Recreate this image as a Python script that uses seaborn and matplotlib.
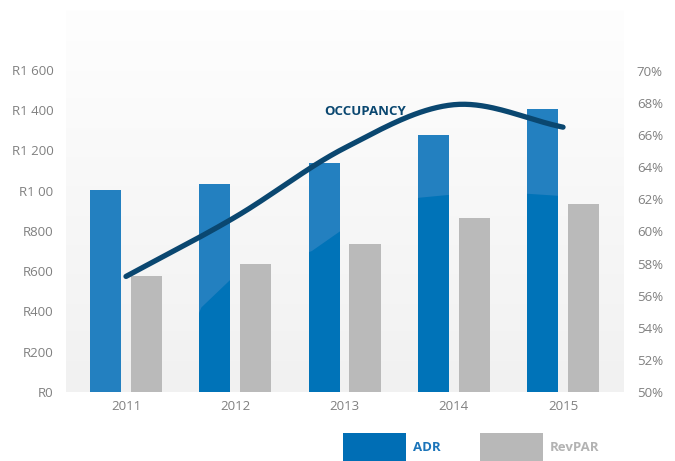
import numpy as np
import pandas as pd
import seaborn as sns
import matplotlib.pyplot as plt
from matplotlib.patches import Rectangle, Polygon
from matplotlib.colors import LinearSegmentedColormap, to_rgb

years = ['2011', '2012', '2013', '2014', '2015']
adr = [1005, 1035, 1140, 1275, 1405]
revpar = [575, 635, 735, 865, 935]
occupancy = [57.2, 60.9, 65.2, 67.9, 66.5]
left_ticks = [0, 200, 400, 600, 800, 1000, 1200, 1400, 1600]
left_labels = ['R0', 'R200', 'R400', 'R600', 'R800', 'R1 00', 'R1 200', 'R1 400', 'R1 600']
right_ticks = [50, 52, 54, 56, 58, 60, 62, 64, 66, 68, 70]
right_labels = [f'{t}%' for t in right_ticks]

ADR_DARK = '#0073b8'
ADR_LIGHT = '#2380c0'
GREY = '#bababa'
NAVY = '#0a4770'
TICK = '#808080'

sns.set_theme(style='white')
plt.rcParams['font.family'] = ['Open Sans', 'DejaVu Sans']

df = pd.DataFrame({
    'year': years * 2,
    'value': adr + revpar,
    'metric': ['ADR'] * len(years) + ['RevPAR'] * len(years),
})

fig = plt.figure(figsize=(6.75, 4.61), dpi=100)
ax = fig.add_axes([0.0978, 0.1497, 0.8252, 0.8286])

# faint vertical gradient behind the plot
bg = LinearSegmentedColormap.from_list('bg', ['#f1f1f1', '#fefefe'])
ax.imshow(np.linspace(0, 1, 200)[:, None], cmap=bg, aspect='auto',
          extent=(0, 1, 0, 1), transform=ax.transAxes, origin='lower', zorder=0)

sns.barplot(data=df, x='year', y='value', hue='metric', hue_order=['ADR', 'RevPAR'],
            palette={'ADR': ADR_DARK, 'RevPAR': GREY}, width=0.75, gap=0.243,
            saturation=1, errorbar=None, legend=False, linewidth=0, ax=ax, zorder=2)

ax.set_xlim(-0.549, 4.549)
ax.set_ylim(0, 1898)

# glossy lighter top on the ADR bars
shine = Polygon([(-1, 0), (0.36, 0), (0.69, 420), (0.96, 560), (1.7, 700), (1.99, 810),
                 (2.68, 965), (2.97, 980), (3.67, 985), (3.95, 975), (5, 960),
                 (5, 3000), (-1, 3000)], closed=True, transform=ax.transData,
                facecolor='none', edgecolor='none')
for p in list(ax.patches):
    if np.allclose(p.get_facecolor()[:3], to_rgb(ADR_DARK)):
        r = Rectangle(p.get_xy(), p.get_width(), p.get_height(), facecolor=ADR_LIGHT,
                      edgecolor='none', linewidth=0, zorder=2.5)
        ax.add_patch(r)
        r.set_clip_path(shine)

ax.set_yticks(left_ticks, left_labels)
ax.set_xlabel('')
ax.set_ylabel('')
ax.tick_params(axis='y', length=0, pad=9, labelsize=9.5, labelcolor=TICK)
ax.tick_params(axis='x', length=0, pad=6, labelsize=9.5, labelcolor=TICK)
for s in ax.spines.values():
    s.set_visible(False)

ax2 = ax.twinx()
ax2.set_ylim(50, 73.8)
# smooth occupancy curve (Catmull-Rom through the yearly values)
xs = np.arange(len(years), dtype=float)
ys = np.array(occupancy)
px = np.concatenate([[2 * xs[0] - xs[1]], xs, [2 * xs[-1] - xs[-2]]])
py = np.concatenate([[2 * ys[0] - ys[1]], ys, [2 * ys[-1] - ys[-2]]])
cx, cy = [], []
t = np.linspace(0, 1, 40)
for i in range(1, len(px) - 2):
    for arr, out in ((px, cx), (py, cy)):
        p0, p1, p2, p3 = arr[i - 1], arr[i], arr[i + 1], arr[i + 2]
        out.extend(0.5 * (2 * p1 + (-p0 + p2) * t + (2 * p0 - 5 * p1 + 4 * p2 - p3) * t ** 2
                          + (-p0 + 3 * p1 - 3 * p2 + p3) * t ** 3))
sns.lineplot(x=cx, y=cy, color=NAVY, linewidth=3.8, sort=False, ax=ax2, zorder=4)
ax2.text(2.19, 67.5, 'OCCUPANCY', color=NAVY, fontsize=9.5, fontweight='bold',
         ha='center', va='center')
ax2.set_yticks(right_ticks, right_labels)
ax2.tick_params(axis='y', length=0, pad=10, labelsize=9.5, labelcolor=TICK)
for s in ax2.spines.values():
    s.set_visible(False)
ax2.grid(False)
ax.grid(False)

# legend drawn below the chart
fig.patches.append(Rectangle((0.508, 0.0), 0.0933, 0.0607, transform=fig.transFigure,
                             facecolor='#006eb5', edgecolor='none'))
fig.text(0.612, 0.029, 'ADR', color='#1b74b9', fontsize=9.5, fontweight='bold', va='center')
fig.patches.append(Rectangle((0.711, 0.0), 0.0933, 0.0607, transform=fig.transFigure,
                             facecolor='#b8b8b8', edgecolor='none'))
fig.text(0.815, 0.029, 'RevPAR', color='#b3b3b3', fontsize=9.5, fontweight='bold', va='center')

fig.savefig('out.png', dpi=100)
